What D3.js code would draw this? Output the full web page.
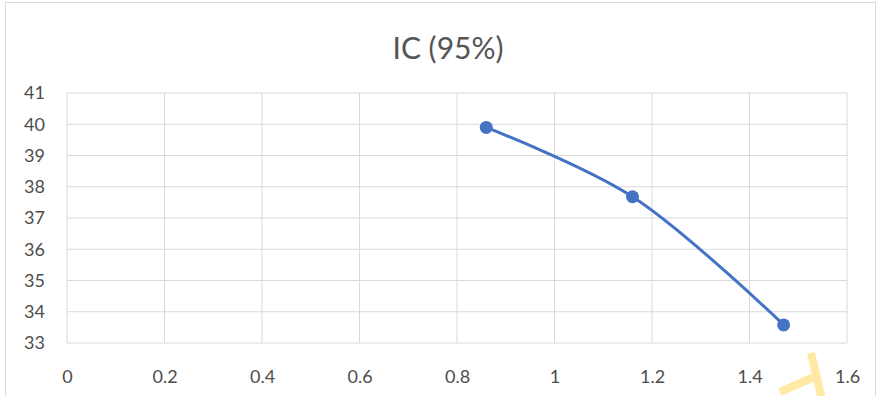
<!DOCTYPE html>
<html><head><meta charset="utf-8">
<script src="https://cdn.jsdelivr.net/npm/d3@7"></script>
<style>body{margin:0;background:#fff}svg{display:block}</style>
</head><body>
<script>
const title = "IC (95%)";
const xValues = [0.86, 1.16, 1.47];
const yValues = [39.9, 37.68, 33.58];
const xTicks = [0, 0.2, 0.4, 0.6, 0.8, 1, 1.2, 1.4, 1.6];
const yTicks = [33, 34, 35, 36, 37, 38, 39, 40, 41];

const W = 878, H = 396;
const m = {left: 67, right: 31, top: 93, bottom: 53};
const svg = d3.select("body").append("svg").attr("width", W).attr("height", H);
svg.append("rect").attr("x", 5.5).attr("y", 2.5).attr("width", 870).attr("height", 400)
  .attr("fill", "#fff").attr("stroke", "#d9d9d9");

const x = d3.scaleLinear().domain([0, 1.6]).range([m.left, W - m.right]);
const y = d3.scaleLinear().domain([33, 41]).range([H - m.bottom, m.top]);

const font = "Lato, 'Open Sans', sans-serif";
svg.append("text").attr("x", 448).attr("y", 59).attr("text-anchor", "middle")
  .attr("font-family", font).attr("font-size", 30).attr("fill", "#555").text(title);

const g = svg.append("g");
g.selectAll(".vg").data(xTicks).join("line")
  .attr("x1", d => x(d)).attr("x2", d => x(d)).attr("y1", y(33)).attr("y2", y(41))
  .attr("stroke", "#d9d9d9").attr("stroke-width", 1);
g.selectAll(".hg").data(yTicks).join("line")
  .attr("x1", x(0)).attr("x2", x(1.6)).attr("y1", d => y(d)).attr("y2", d => y(d))
  .attr("stroke", "#d9d9d9").attr("stroke-width", 1);

const xAxis = svg.append("g").attr("transform", `translate(0,${y(33)})`)
  .call(d3.axisBottom(x).tickValues(xTicks).tickFormat(d3.format("")).tickSize(0).tickPadding(27));
const yAxis = svg.append("g").attr("transform", `translate(${x(0)},0)`)
  .call(d3.axisLeft(y).tickValues(yTicks).tickSize(0).tickPadding(22));
[xAxis, yAxis].forEach(a => {
  a.select(".domain").remove();
  a.selectAll("text").attr("font-family", font).attr("font-size", 18).attr("fill", "#4d4d4d");
});

const pts = xValues.map((v, i) => [v, yValues[i]]);
svg.append("path").datum(pts)
  .attr("d", d3.line().x(d => x(d[0])).y(d => y(d[1])).curve(d3.curveCatmullRom.alpha(0.5)))
  .attr("fill", "none").attr("stroke", "#4472C4").attr("stroke-width", 3);
svg.selectAll(".pt").data(pts).join("circle")
  .attr("cx", d => x(d[0])).attr("cy", d => y(d[1])).attr("r", 6.5).attr("fill", "#4472C4");

// watermark fragment
const wm = svg.append("g").attr("stroke", "#FFE9A3").attr("stroke-width", 8).attr("stroke-linecap", "butt");
wm.append("line").attr("x1", 811).attr("y1", 353).attr("x2", 822).attr("y2", 400);
wm.append("line").attr("x1", 780).attr("y1", 392).attr("x2", 816).attr("y2", 376);
</script>
</body></html>
